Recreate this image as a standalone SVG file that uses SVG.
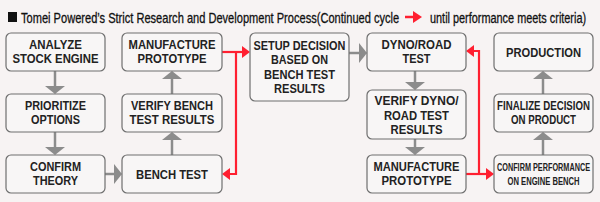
<svg xmlns="http://www.w3.org/2000/svg" width="600" height="202" viewBox="0 0 600 202">
<defs>
<style>
.bg{fill:#f7f3f3}
.box{fill:#f8f6f6;stroke:#6f6f6f;stroke-width:1.2}
.t{font-family:"Liberation Sans",Arial,sans-serif;font-weight:bold;font-size:12.5px;fill:#222;text-anchor:middle}
.s{font-size:11px}
.title{font-family:"Liberation Sans",Arial,sans-serif;font-size:15px;fill:#111;stroke:#111;stroke-width:0.3}
.g{stroke:#8c8c8c;stroke-width:2.5;fill:none}
.gh{fill:#8c8c8c}
.r{stroke:#ff1f30;stroke-width:2.2;fill:none}
.rh{fill:#ff1f30}
</style>
</defs>
<rect class="bg" x="0" y="0" width="600" height="202"/>
<g id="title">
<rect x="8" y="12" width="9" height="10" fill="#111"/>
<text class="title" transform="translate(21,22.5) scale(0.73,1)" x="0" y="0" textLength="518" lengthAdjust="spacingAndGlyphs">Tomei Powered’s Strict Research and Development Process(Continued cycle</text>
<line x1="405" y1="17" x2="415" y2="17" stroke="#ff1f30" stroke-width="2.5"/>
<polygon class="rh" points="413,11 422,17 413,23"/>
<text class="title" transform="translate(430,22.5) scale(0.67,1)" x="0" y="0" textLength="233" lengthAdjust="spacingAndGlyphs">until performance meets criteria)</text>
</g>
<g id="connectors">
<line class="g" x1="55" y1="71" x2="55" y2="87"/><polygon class="gh" points="45,86 65,86 55,94"/>
<line class="g" x1="55" y1="132" x2="55" y2="148"/><polygon class="gh" points="45,147 65,147 55,155"/>
<line class="g" x1="105" y1="174" x2="115" y2="174"/><polygon class="gh" points="114,164 114,184 122,174"/>
<line class="g" x1="172" y1="155" x2="172" y2="140"/><polygon class="gh" points="162,140 182,140 172,132"/>
<line class="g" x1="172" y1="94" x2="172" y2="79"/><polygon class="gh" points="162,79 182,79 172,71"/>
<line class="g" x1="349" y1="53" x2="360" y2="53"/><polygon class="gh" points="359,43 359,63 367,53"/>
<line class="g" x1="415" y1="71" x2="415" y2="83"/><polygon class="gh" points="405,82 425,82 415,90"/>
<line class="g" x1="415" y1="139" x2="415" y2="148"/><polygon class="gh" points="405,147 425,147 415,155"/>
<line class="g" x1="543" y1="155" x2="543" y2="140"/><polygon class="gh" points="533,140 553,140 543,132"/>
<line class="g" x1="543" y1="94" x2="543" y2="79"/><polygon class="gh" points="533,79 553,79 543,71"/>
<polyline class="r" points="222,52 243,52"/>
<polyline class="r" points="236,52 236,174 229,174"/>
<polygon class="rh" points="242,46 250,52 242,58"/>
<polygon class="rh" points="230,168 222,174 230,180"/>
<polyline class="r" points="466,174 487,174"/>
<polyline class="r" points="479,174 479,51 473,51"/>
<polygon class="rh" points="486,168 494,174 486,180"/>
<polygon class="rh" points="474,45 466,51 474,57"/>
</g>
<g id="analyze"><rect class="box" x="6" y="33" width="99" height="38" rx="5"/><text class="t" x="55.5" y="49" textLength="53" lengthAdjust="spacingAndGlyphs">ANALYZE</text><text class="t" x="55.5" y="63" textLength="86" lengthAdjust="spacingAndGlyphs">STOCK ENGINE</text></g>
<g id="prioritize"><rect class="box" x="6" y="94" width="99" height="38" rx="5"/><text class="t" x="55.5" y="110" textLength="61" lengthAdjust="spacingAndGlyphs">PRIORITIZE</text><text class="t" x="55.5" y="124" textLength="49" lengthAdjust="spacingAndGlyphs">OPTIONS</text></g>
<g id="confirm"><rect class="box" x="6" y="155" width="99" height="38" rx="5"/><text class="t" x="55.5" y="171" textLength="51" lengthAdjust="spacingAndGlyphs">CONFIRM</text><text class="t" x="55.5" y="185" textLength="45" lengthAdjust="spacingAndGlyphs">THEORY</text></g>
<g id="manufacture1"><rect class="box" x="122" y="33" width="100" height="38" rx="5"/><text class="t" x="172" y="49" textLength="87" lengthAdjust="spacingAndGlyphs">MANUFACTURE</text><text class="t" x="172" y="63" textLength="69" lengthAdjust="spacingAndGlyphs">PROTOTYPE</text></g>
<g id="verifybench"><rect class="box" x="122" y="94" width="100" height="38" rx="5"/><text class="t" x="172" y="110" textLength="82" lengthAdjust="spacingAndGlyphs">VERIFY BENCH</text><text class="t" x="172" y="124" textLength="85" lengthAdjust="spacingAndGlyphs">TEST RESULTS</text></g>
<g id="benchtest"><rect class="box" x="122" y="155" width="100" height="38" rx="5"/><text class="t" x="172" y="178.5" textLength="72" lengthAdjust="spacingAndGlyphs">BENCH TEST</text></g>
<g id="setup"><rect class="box" x="250" y="33" width="99" height="68" rx="5"/><text class="t" x="299.5" y="49.5" textLength="92" lengthAdjust="spacingAndGlyphs">SETUP DECISION</text><text class="t" x="299.5" y="64" textLength="57" lengthAdjust="spacingAndGlyphs">BASED ON</text><text class="t" x="299.5" y="78.5" textLength="71" lengthAdjust="spacingAndGlyphs">BENCH TEST</text><text class="t" x="299.5" y="93" textLength="51" lengthAdjust="spacingAndGlyphs">RESULTS</text></g>
<g id="dyno"><rect class="box" x="367" y="33" width="99" height="38" rx="5"/><text class="t" x="416.5" y="49" textLength="70" lengthAdjust="spacingAndGlyphs">DYNO/ROAD</text><text class="t" x="416.5" y="63" textLength="28" lengthAdjust="spacingAndGlyphs">TEST</text></g>
<g id="verifydyno"><rect class="box" x="367" y="90" width="99" height="49" rx="5"/><text class="t" x="416.5" y="105" textLength="84" lengthAdjust="spacingAndGlyphs">VERIFY DYNO/</text><text class="t" x="416.5" y="119.5" textLength="65" lengthAdjust="spacingAndGlyphs">ROAD TEST</text><text class="t" x="416.5" y="134" textLength="52" lengthAdjust="spacingAndGlyphs">RESULTS</text></g>
<g id="manufacture2"><rect class="box" x="367" y="155" width="99" height="38" rx="5"/><text class="t" x="416.5" y="171" textLength="86" lengthAdjust="spacingAndGlyphs">MANUFACTURE</text><text class="t" x="416.5" y="185" textLength="70" lengthAdjust="spacingAndGlyphs">PROTOTYPE</text></g>
<g id="production"><rect class="box" x="494" y="33" width="99" height="38" rx="5"/><text class="t" x="543.5" y="57" textLength="75" lengthAdjust="spacingAndGlyphs">PRODUCTION</text></g>
<g id="finalize"><rect class="box" x="494" y="94" width="99" height="38" rx="5"/><text class="t" transform="translate(543.5,110) scale(0.78,1)" x="0" y="0" textLength="119" lengthAdjust="spacingAndGlyphs">FINALIZE DECISION</text><text class="t" x="543.5" y="124" textLength="65" lengthAdjust="spacingAndGlyphs">ON PRODUCT</text></g>
<g id="confirmperf"><rect class="box" x="494" y="155" width="99" height="38" rx="5"/><text class="t s" transform="translate(543.5,170.5) scale(0.66,1)" x="0" y="0" textLength="141" lengthAdjust="spacingAndGlyphs">CONFIRM PERFORMANCE</text><text class="t s" transform="translate(543.5,185) scale(0.66,1)" x="0" y="0" textLength="109" lengthAdjust="spacingAndGlyphs">ON ENGINE BENCH</text></g>
</svg>
